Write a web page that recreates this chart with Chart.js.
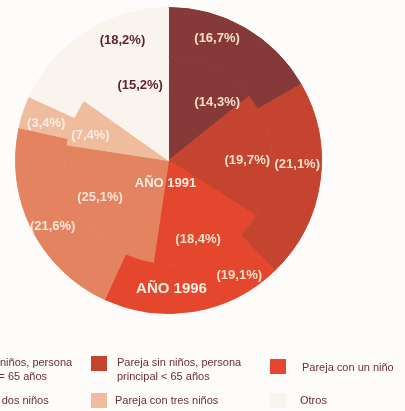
<!DOCTYPE html>
<html lang="es">
<head>
<meta charset="UTF-8">
<title>Hogares por tipo de familia</title>
<script src="https://cdn.jsdelivr.net/npm/chart.js"></script>
<style>
    html, body { margin: 0; padding: 0; background: #fdfcfb; }
    .wrap { position: relative; width: 405px; height: 411px; overflow: hidden; }
    #pie { position: absolute; left: 0; top: 0; }
    .leg { position: absolute; font: 11px "Liberation Sans", Arial, sans-serif; color: #6e2c3a; line-height: 14px; white-space: nowrap; }
    .box { position: absolute; width: 16px; height: 15px; }
</style>
</head>
<body>
<div class="wrap">
    <canvas id="pie" width="405" height="411"></canvas>
    <div id="legend"></div>
</div>

<script>
    // household types, in drawing order (clockwise from 12 o'clock)
    const categories = [
        'Pareja sin niños, persona\nprincipal >= 65 años',
        'Pareja sin niños, persona\nprincipal < 65 años',
        'Pareja con un niño',
        'Pareja con dos niños',
        'Pareja con tres niños',
        'Otros'
    ];
    const values1996 = [16.7, 21.1, 19.1, 21.6, 3.4, 18.2];   // outer ring
    const values1991 = [14.3, 19.7, 18.4, 25.1, 7.4, 15.2];   // inner pie
    const ringTitles = ['AÑO 1996', 'AÑO 1991'];

    const colors = ['#853939', '#c4442f', '#e5472e', '#e4835f', '#efbd9e', '#f9f4ed'];
    const labelColors = ['#f6e0c8', '#f6e0c8', '#f6e0c8', '#f8e6d6', '#fbece2', '#5e1f2f'];

    // where each label sits inside its slice: [fraction along the arc, fraction across the ring]
    const place1996 = [[0.36, 0.57], [0.42, 0.51], [0.18, 0.63], [0.46, 0.6], [0.38, 0.49], [0.68, 0.51]];
    const place1991 = [[0.78, 0.73], [0.54, 0.76], [0.56, 0.81], [0.59, 0.75], [0.34, 0.79], [0.62, 0.77]];

    const fmt = v => '(' + v.toFixed(1).replace('.', ',') + '%)';

    const sliceLabels = {
        id: 'sliceLabels',
        afterDatasetsDraw(chart) {
            const ctx = chart.ctx;
            ctx.save();
            ctx.textAlign = 'center';
            ctx.textBaseline = 'middle';
            ctx.font = 'bold 13px "Liberation Sans", Arial, sans-serif';
            const places = [place1996, place1991];
            chart.data.datasets.forEach((ds, di) => {
                chart.getDatasetMeta(di).data.forEach((arc, i) => {
                    const p = arc.getProps(['x', 'y', 'startAngle', 'endAngle', 'innerRadius', 'outerRadius'], true);
                    const [t, f] = places[di][i];
                    const a = p.startAngle + t * (p.endAngle - p.startAngle);
                    const r = p.innerRadius + f * (p.outerRadius - p.innerRadius);
                    ctx.fillStyle = labelColors[i];
                    ctx.fillText(fmt(ds.data[i]), p.x + Math.cos(a) * r, p.y + Math.sin(a) * r);
                });
            });
            // ring titles
            const outer = chart.getDatasetMeta(0).data[0];
            const inner = chart.getDatasetMeta(1).data[0];
            ctx.fillStyle = '#fbeee2';
            ctx.font = 'bold 15px "Liberation Sans", Arial, sans-serif';
            ctx.fillText(ringTitles[0], outer.x + 3, outer.y + (outer.innerRadius + outer.outerRadius) / 2);
            ctx.font = 'bold 13px "Liberation Sans", Arial, sans-serif';
            ctx.fillText(ringTitles[1], inner.x - 3, inner.y + inner.outerRadius * 0.22);
            ctx.restore();
        }
    };

    new Chart(document.getElementById('pie'), {
        type: 'pie',
        data: {
            labels: categories,
            datasets: [
                { label: ringTitles[0], data: values1996, backgroundColor: colors, borderColor: colors, borderWidth: 1, weight: 49.5 },
                { label: ringTitles[1], data: values1991, backgroundColor: colors, borderColor: colors, borderWidth: 1, weight: 104 }
            ]
        },
        options: {
            responsive: false,
            animation: false,
            layout: { padding: { left: 15, top: 7, right: 83, bottom: 97 } },
            plugins: { legend: { display: false }, tooltip: { enabled: false } }
        },
        plugins: [sliceLabels]
    });

    // legend: three columns, two rows; the first column runs off the left edge
    const legendCols = [-78, 91, 270];
    const legendRows = [356, 393];
    const legend = document.getElementById('legend');
    categories.forEach((name, i) => {
        const col = i % 3, row = i < 3 ? 0 : 1;
        const x = legendCols[col], y = legendRows[row];
        const lines = name.split('\n');
        const box = document.createElement('div');
        box.className = 'box';
        box.style.left = x + 'px';
        box.style.top = (y + (col === 2 && row === 0 ? 3 : 0)) + 'px';
        box.style.background = colors[i];
        legend.appendChild(box);
        const txt = document.createElement('div');
        txt.className = 'leg';
        txt.style.left = (x + (row === 0 ? 26 : 24) + (col === 2 ? 6 : 0)) + 'px';
        txt.style.top = (y + (lines.length > 1 ? -1 : (row === 0 ? 4 : 0))) + 'px';
        txt.textContent = '';
        lines.forEach((line, k) => {
            if (k) txt.appendChild(document.createElement('br'));
            txt.appendChild(document.createTextNode(line));
        });
        legend.appendChild(txt);
    });
</script>
</body>
</html>
